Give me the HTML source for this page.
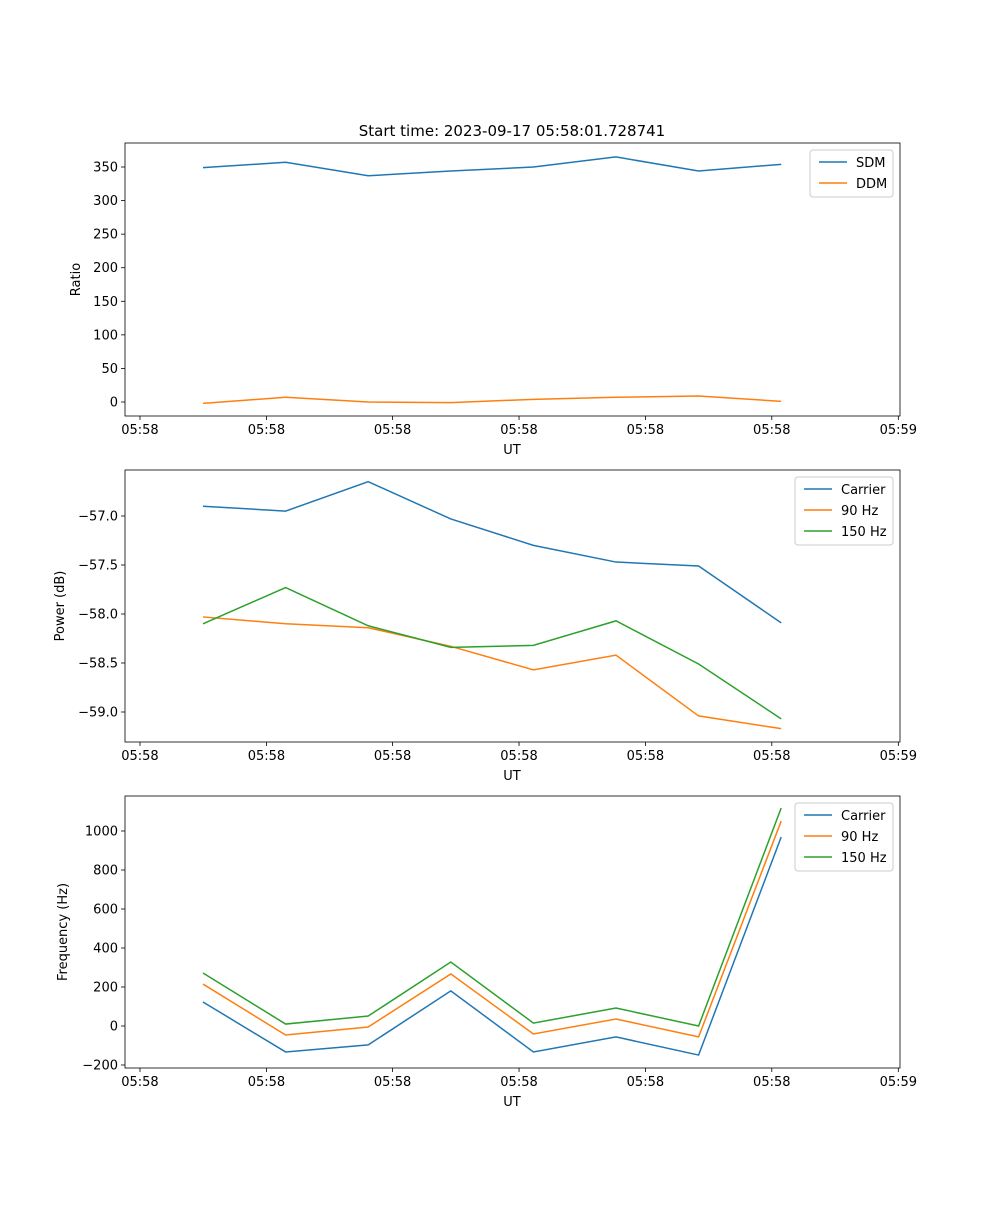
<!DOCTYPE html>
<html><head><meta charset="utf-8"><style>
body{margin:0;background:#fff}
svg text{font-family:"DejaVu Sans","Liberation Sans",sans-serif;font-size:13px;fill:#000}
</style></head><body>
<svg id="fig" width="1000" height="1200" xmlns="http://www.w3.org/2000/svg">
<rect width="1000" height="1200" fill="#fff"/>
<text x="512" y="136" text-anchor="middle" style="font-size:15px">Start time: 2023-09-17 05:58:01.728741</text>
</svg>
<script>
const sampleIdx = [0,1,2,3,4,5,6,7];
const xTickPos = [-0.763,0.768,2.295,3.826,5.356,6.886,8.418];
const xTickLabels = ["05:58","05:58","05:58","05:58","05:58","05:58","05:59"];
const sdm = [349,357,337,344,350,365,344,354];
const ddm = [-2,7,0,-1,4,7,9,1];
const pCarrier = [-56.90,-56.95,-56.65,-57.03,-57.30,-57.47,-57.51,-58.09];
const p90 = [-58.03,-58.10,-58.14,-58.33,-58.57,-58.42,-59.04,-59.17];
const p150 = [-58.10,-57.73,-58.12,-58.34,-58.32,-58.07,-58.51,-59.07];
const fCarrier = [123,-133,-97,180,-133,-56,-149,969];
const f90 = [215,-46,-5,267,-41,36,-56,1051];
const f150 = [272,10,51,328,15,92,0,1118];
const ratioTicks = [0,50,100,150,200,250,300,350];
const powerTicks = [-57.0,-57.5,-58.0,-58.5,-59.0];
const freqTicks = [-200,0,200,400,600,800,1000];

const NS="http://www.w3.org/2000/svg";
const svg=document.getElementById('fig');
function mk(tag,attrs,parent){const e=document.createElementNS(NS,tag);for(const k in attrs)e.setAttribute(k,attrs[k]);(parent||svg).appendChild(e);return e;}
const L=125,R=900;
const xs=i=>203+82.6*i;
const colors={blue:"#1f77b4",orange:"#ff7f0e",green:"#2ca02c"};

function panel(name,top,bot,ys,yTicks,fmt,ylabel,series,legend){
  const g=mk('g',{});
  
  
  yTicks.forEach(v=>{const y=ys(v);
    const t=mk('line',{x1:L-4,x2:L,y1:y,y2:y,stroke:'#000','stroke-width':0.8},g);
    
    const tx=mk('text',{x:L-7,y:y+4.5,'text-anchor':'end'},g);tx.textContent=fmt(v);
    });
  xTickPos.forEach((p,k)=>{const x=xs(p);
    const t=mk('line',{x1:x,x2:x,y1:bot,y2:bot+4,stroke:'#000','stroke-width':0.8},g);
    
    const tx=mk('text',{x:x,y:bot+18,'text-anchor':'middle'},g);tx.textContent=xTickLabels[k];
    });
  series.forEach(s=>{
    const pl=mk('polyline',{points:sampleIdx.map((i,k)=>xs(i)+','+ys(s.v[k])).join(' '),fill:'none',stroke:s.c,'stroke-width':1.5},g);
    });
  const fr=mk('rect',{x:L,y:top,width:R-L,height:bot-top,fill:'none',stroke:'#000','stroke-width':0.8},g);
  
  const xl=mk('text',{x:512,y:bot+38,'text-anchor':'middle'},g);xl.textContent='UT';
  
  const yx=legend.yl;
  const yl=mk('text',{x:0,y:0,'text-anchor':'middle',transform:`translate(${yx},${(top+bot)/2}) rotate(-90)`},g);yl.textContent=ylabel;
  
  const lg=mk('g',{},g);
  
  mk('rect',{x:legend.x,y:top+7,width:R-7-legend.x,height:series.length*21+5,rx:3,fill:'#fff','fill-opacity':0.8,stroke:'#ccc'},lg);
  series.forEach((s,k)=>{const y=top+19+k*21;
    mk('line',{x1:legend.x+9,x2:legend.x+37,y1:y,y2:y,stroke:s.c,'stroke-width':1.5},lg);
    const t=mk('text',{x:legend.x+46,y:y+5},lg);t.textContent=s.label;
    });
}
panel('ratio',143,416,v=>402-v*0.6714,ratioTicks,v=>String(v),'Ratio',
 [{n:'sdm',v:sdm,c:colors.blue,label:'SDM'},{n:'ddm',v:ddm,c:colors.orange,label:'DDM'}],{x:810,yl:80});
panel('power',470,742,v=>516-(v+57)*98,powerTicks,v=>v.toFixed(1).replace('-','\u2212'),'Power (dB)',
 [{n:'carrier-power',v:pCarrier,c:colors.blue,label:'Carrier'},{n:'90hz-power',v:p90,c:colors.orange,label:'90 Hz'},{n:'150hz-power',v:p150,c:colors.green,label:'150 Hz'}],{x:795,yl:64});
panel('frequency',796,1068,v=>1026-v*0.195,freqTicks,v=>String(v).replace('-','\u2212'),'Frequency (Hz)',
 [{n:'carrier-freq',v:fCarrier,c:colors.blue,label:'Carrier'},{n:'90hz-freq',v:f90,c:colors.orange,label:'90 Hz'},{n:'150hz-freq',v:f150,c:colors.green,label:'150 Hz'}],{x:795,yl:67});
</script>
</body></html>
